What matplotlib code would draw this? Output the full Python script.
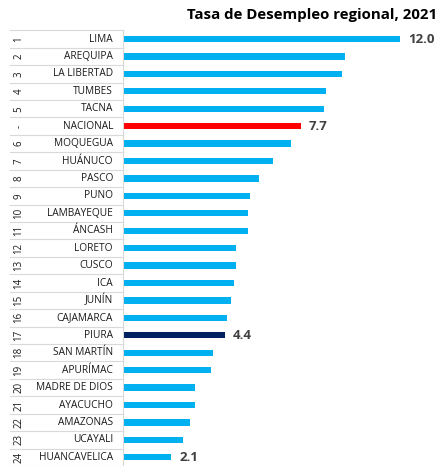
import matplotlib
matplotlib.use("Agg")
import matplotlib.pyplot as plt
from matplotlib.transforms import blended_transform_factory

regions = ["LIMA", "AREQUIPA", "LA LIBERTAD", "TUMBES", "TACNA", "NACIONAL",
           "MOQUEGUA", "HUÁNUCO", "PASCO", "PUNO", "LAMBAYEQUE", "ÁNCASH",
           "LORETO", "CUSCO", "ICA", "JUNÍN", "CAJAMARCA", "PIURA",
           "SAN MARTÍN", "APURÍMAC", "MADRE DE DIOS", "AYACUCHO", "AMAZONAS",
           "UCAYALI", "HUANCAVELICA"]
ranks = ["1", "2", "3", "4", "5", "-", "6", "7", "8", "9", "10", "11", "12",
         "13", "14", "15", "16", "17", "18", "19", "20", "21", "22", "23", "24"]
values = [12.0, 9.6, 9.5, 8.8, 8.7, 7.7, 7.3, 6.5, 5.9, 5.5, 5.4, 5.4, 4.9,
          4.9, 4.8, 4.7, 4.5, 4.4, 3.9, 3.8, 3.1, 3.1, 2.9, 2.6, 2.1]
labelled = ["LIMA", "NACIONAL", "PIURA", "HUANCAVELICA"]
title = "Tasa de Desempleo regional, 2021"

BLUE, RED, NAVY = "#00B0F0", "#FF0000", "#002060"
colors = [RED if r == "NACIONAL" else NAVY if r == "PIURA" else BLUE for r in regions]

W, H = 443, 466
fig = plt.figure(figsize=(W / 100, H / 100), dpi=100)
ax = fig.add_axes([123 / W, 0, 320 / W, (466 - 30.3) / H])
n = len(regions)
ypos = list(range(n))
ax.barh(ypos, values, height=0.36, color=colors)
ax.set_xlim(0, 320 / 23.08)
ax.set_ylim(n - 0.5, -0.5)
ax.axis("off")

for y, r, v in zip(ypos, regions, values):
    if r in labelled:
        ax.text(v + 0.35, y, f"{v:.1f}", va="center", ha="left", fontsize=9.5,
                fontweight="bold", color="#404040", family="Open Sans")

tr = blended_transform_factory(fig.transFigure, ax.transData)
for y, r, k in zip(ypos, regions, ranks):
    ax.text(113 / W, y, r, transform=tr, ha="right", va="center", fontsize=7.3,
            color="#1a1a1a", family="Open Sans", clip_on=False)
    ax.text(19 / W, y, k, transform=tr, ha="center", va="center", fontsize=7,
            color="#1a1a1a", family="Open Sans", rotation=90, clip_on=False)
for b in range(n + 1):
    ax.plot([10 / W, 123 / W], [b - 0.5, b - 0.5], transform=tr, color="#D9D9D9",
            lw=0.8, clip_on=False)
ax.plot([123 / W, 123 / W], [-0.5, n - 0.5], transform=tr, color="#D9D9D9",
        lw=0.8, clip_on=False)

fig.text(437 / W, 1 - 15 / H, title, ha="right", va="center", fontsize=10.8,
         fontweight="bold", color="#000000", family="Open Sans")

fig.savefig("out.png", dpi=100)
